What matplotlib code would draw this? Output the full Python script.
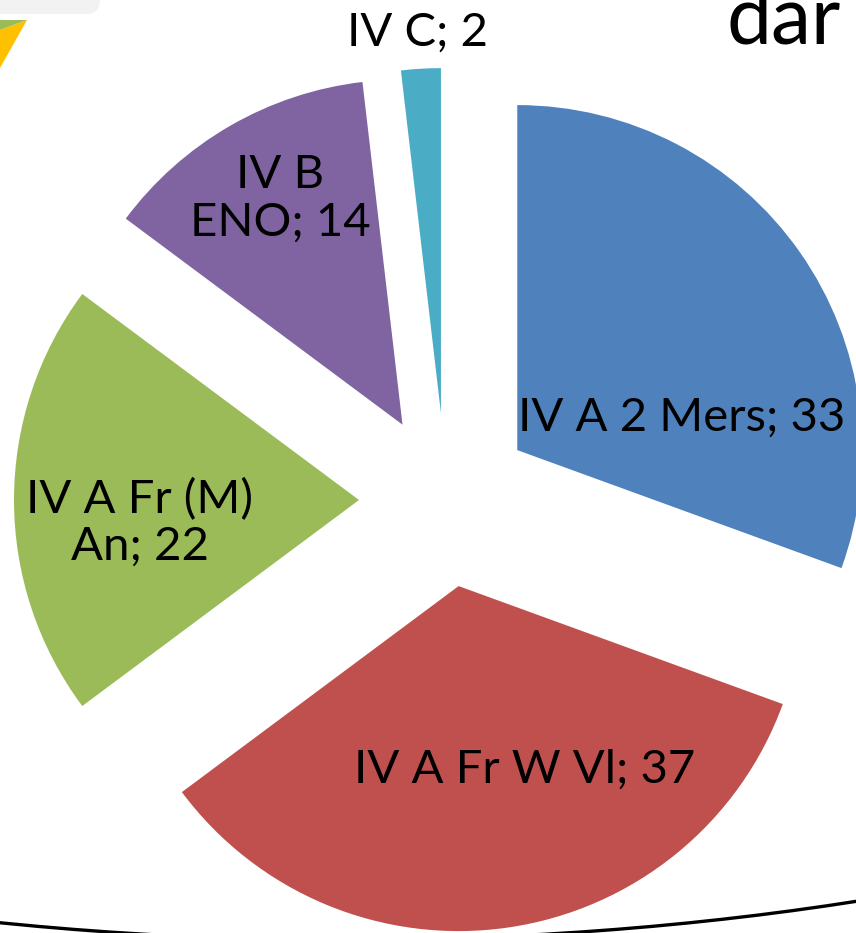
import matplotlib
matplotlib.use("Agg")
import matplotlib.pyplot as plt
from matplotlib.patches import Arc, Polygon, FancyBboxPatch

# data
labels = ["IV A 2 Mers", "IV A Fr W Vl", "IV A Fr (M)\nAn", "IV B\nENO", "IV C"]
values = [33, 37, 22, 14, 2]
colors = ["#4F81BD", "#C0504D", "#9BBB59", "#8064A2", "#4BACC6"]

# label centres in picture pixels (x, y from top)
label_pos = [(682, 418), (525, 770), (140, 523), (280, 199), (418, 33)]

W, H = 856, 933
fig = plt.figure(figsize=(W / 100, H / 100), dpi=100)
ax = fig.add_axes([0, 0, 1, 1])

ax.pie(values, colors=colors, startangle=90, counterclock=False,
       center=(446, H - 500), radius=345, explode=[87] * len(values),
       wedgeprops=dict(linewidth=0))

for lab, v, (px, py) in zip(labels, values, label_pos):
    ax.text(px, H - py, "%s; %d" % (lab, v), ha="center", va="center",
            fontsize=34, family="Lato", linespacing=1.15)

# bits of the slide around the chart
ax.add_patch(FancyBboxPatch((-60, H - 14), 160, 40, boxstyle="round,pad=0,rounding_size=14",
                            fc="#F2F2F2", ec="none", clip_on=True))
ax.add_patch(Polygon([(0, H - 68), (0, H - 30), (27, H - 20)], closed=True,
                     fc="#FFC000", ec="none"))
ax.add_patch(Polygon([(0, H - 30), (0, H - 20), (27, H - 20)], closed=True,
                     fc="#9BBB59", ec="none"))
ax.text(727, H - 43, "dar", fontsize=58, family="Lato", va="baseline", ha="left")
ax.add_patch(Arc((345, 553), 2800, 1120, theta1=200, theta2=340,
                 lw=2.4, color="black"))

ax.set_xlim(0, W)
ax.set_ylim(0, H)
ax.set_aspect("equal")
ax.set_axis_off()

fig.savefig("out.png", dpi=100)
